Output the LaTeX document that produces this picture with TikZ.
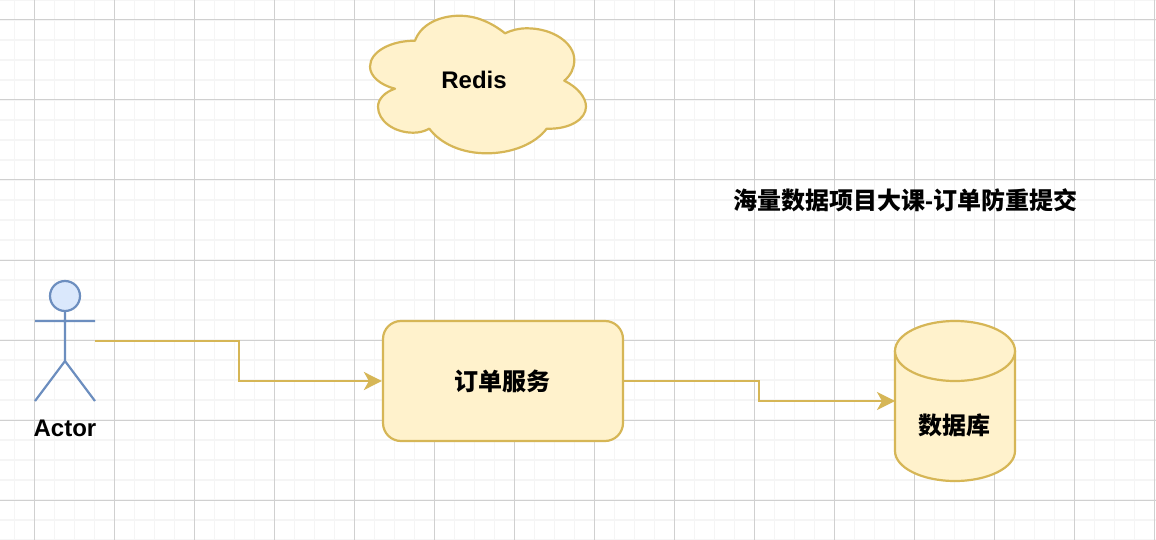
\documentclass[tikz,border=0pt]{standalone}
\usepackage{fontspec}
\setmainfont{Liberation Sans}
\newfontfamily\cjkfont{Noto Sans CJK SC}
\usetikzlibrary{arrows.meta,positioning}
\definecolor{flowFill}{HTML}{FFF2CC}
\definecolor{flowGold}{HTML}{D6B656}
\definecolor{flowBlue}{HTML}{6C8EBF}
\definecolor{flowSky}{HTML}{DAE8FC}
\definecolor{gridMajor}{HTML}{D0D0D0}
\definecolor{gridMinor}{HTML}{F5F5F5}
\tikzset{
  every picture/.style={font=\fontsize{24}{28}\selectfont\bfseries, text=black},
  flow shape/.style={draw=flowGold, line width=2.2pt, fill=flowFill, line join=round},
  flow box/.style={flow shape, rounded corners=18pt, minimum width=240pt,
    minimum height=120pt, inner sep=0pt, align=center},
  flow ghost/.style={inner sep=0pt, outer sep=0pt},
  flow arrow/.style={-{Stealth[length=18pt,width=18pt,inset=5pt]},
    draw=flowGold, line width=2.2pt},
  flow actor/.style={draw=flowBlue, line width=2.2pt, fill=flowSky},
  grid major/.style={draw=gridMajor, line width=1pt},
  grid minor/.style={draw=gridMinor, line width=1.4pt}
}

\begin{document}
\begin{tikzpicture}[x=1pt,y=-1pt]
  \useasboundingbox (0,0) rectangle (1156,540);
  \fill[white] (0,0) rectangle (1156,540);
  \foreach \gx in {14.5,34.5,...,1154.5} {
    \draw[grid minor] (\gx,0) -- (\gx,540);
  }
  \foreach \gy in {0,20,...,540} {
    \draw[grid minor] (0,\gy) -- (1156,\gy);
  }
  \foreach \gx in {34.5,114.5,...,1154.5} {
    \draw[grid major] (\gx,0) -- (\gx,540);
  }
  \foreach \gy in {20,100,...,500} {
    \draw[grid major] (0,\gy) -- (1156,\gy);
  }

  \draw[flow shape] (415,40.7)
    .. controls (421,24) and (440,15.7) .. (460,15.7)
    .. controls (475,15.7) and (491,22) .. (505,33.3)
    .. controls (512,30) and (519,28.3) .. (527,28.3)
    .. controls (553,28.3) and (574.3,43) .. (574.3,60)
    .. controls (574.3,68) and (571,75) .. (564.3,80.7)
    .. controls (577,87) and (586,97) .. (586,106.7)
    .. controls (586,119) and (570,129.5) .. (546.7,128.7)
    .. controls (535,144) and (512,153.3) .. (486.7,153.3)
    .. controls (462,153.3) and (441,144) .. (429.3,128.7)
    .. controls (424,131.5) and (419,132.7) .. (413.3,132.7)
    .. controls (394,132.7) and (378,121) .. (378,106.7)
    .. controls (378,99) and (385,92) .. (395,88.7)
    .. controls (380,85) and (370,76) .. (370,66.7)
    .. controls (370,52) and (390,40.7) .. (415,40.7) -- cycle;
  \node[flow ghost] (redis) at (474,80) {Redis};

  \node[flow ghost] (title) at (905,200) {\cjkfont 海量数据项目大课\rmfamily-\cjkfont 订单防重提交};

  \node[flow ghost, minimum width=60pt, minimum height=120pt] (actor) at (65,341) {};
  \draw[flow actor] (65,296) circle (15);
  \draw[flow actor, fill=none] (65,311) -- (65,361)
    (35,321) -- (95,321)
    (35,401) -- (65,361) -- (95,401);
  \node[flow ghost] (actorlabel) at (65,428) {Actor};

  \node[flow box] (order) at (503,381) {\cjkfont\hspace*{-2pt}订单服务};

  \node[flow ghost, minimum width=120pt, minimum height=160pt] (db) at (955,401) {};
  \draw[flow shape] (895,351) -- (895,451)
    arc[start angle=180, end angle=0, x radius=60, y radius=30]
    -- (1015,351) -- cycle;
  \draw[flow shape] (955,351) ellipse [x radius=60, y radius=30];
  \node[flow ghost] (dblabel) at (954,425) {\cjkfont 数据库};

  \draw[flow arrow] (actor.east) -- ++(144,0) |- (order.west);
  \draw[flow arrow] (order.east) -- ++(135,0) |- (db.west);
\end{tikzpicture}
\end{document}
